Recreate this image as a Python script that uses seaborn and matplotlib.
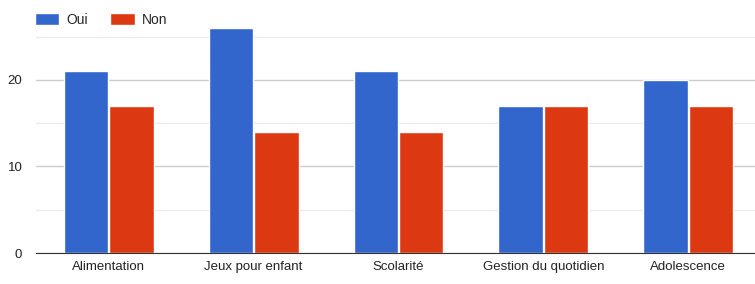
import pandas as pd
import seaborn as sns
import matplotlib.pyplot as plt
from matplotlib.patches import Patch

categories = ["Alimentation", "Jeux pour enfant", "Scolarité", "Gestion du quotidien", "Adolescence"]
oui = [21, 26, 21, 17, 20]
non = [17, 14, 14, 17, 17]
series = ["Oui", "Non"]
colors = ["#3366cc", "#dc3912"]

df = pd.DataFrame({
    "categorie": categories * 2,
    "reponse": ["Oui"] * len(categories) + ["Non"] * len(categories),
    "valeur": oui + non,
})

sns.set_style("white")
plt.rcParams["font.family"] = ["Liberation Sans", "DejaVu Sans"]

fig = plt.figure(figsize=(7.55, 2.84), dpi=100)
ax = fig.add_axes([0.048, 0.109, 0.952, 0.82])

sns.barplot(data=df, x="categorie", y="valeur", hue="reponse", hue_order=series,
            palette=colors, width=0.63, gap=0.03, saturation=1, ax=ax, legend=False)

ax.set_xlim(-0.5, 4.46)
ax.set_ylim(0, 26.9)
ax.set_yticks([0, 10, 20])
ax.set_yticks([5, 15, 25], minor=True)
ax.grid(axis="y", which="major", color="#cccccc", linewidth=1)
ax.grid(axis="y", which="minor", color="#ebebeb", linewidth=1)
ax.set_axisbelow(True)
for s in ["top", "right", "left"]:
    ax.spines[s].set_visible(False)
ax.spines["bottom"].set_color("#333333")
ax.tick_params(axis="both", length=0, labelsize=9.5, colors="#222222")
ax.tick_params(axis="x", pad=6)
ax.tick_params(axis="y", pad=10)
ax.set_xlabel("")
ax.set_ylabel("")

handles = [Patch(facecolor=c, label=s) for c, s in zip(colors, series)]
fig.legend(handles=handles, loc="upper left", bbox_to_anchor=(0.03, 1.0), ncol=2,
           frameon=False, fontsize=10, handlelength=1.75, handleheight=0.95,
           handletextpad=0.5, columnspacing=1.6)

fig.savefig("out.png", dpi=100)
